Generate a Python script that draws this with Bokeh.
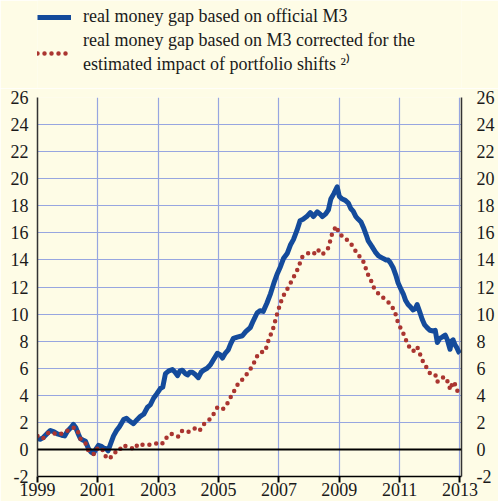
from bokeh.plotting import figure
from bokeh.layouts import column
from bokeh.models import (ColumnDataSource, LinearAxis, FixedTicker, Span, Legend, LegendItem, Range1d)
from bokeh.embed import file_html
from bokeh.resources import INLINE

# ---- data ----
years_official = [1999.00, 1999.10, 1999.20, 1999.33, 1999.43, 1999.55, 1999.66, 1999.80, 1999.90, 1999.99,
                  2000.10, 2000.19, 2000.27, 2000.34, 2000.42, 2000.50, 2000.59, 2000.69, 2000.78, 2000.85,
                  2000.93, 2001.02, 2001.10, 2001.19, 2001.28, 2001.34, 2001.42, 2001.52, 2001.62, 2001.72,
                  2001.85, 2001.95, 2002.05, 2002.18, 2002.30, 2002.41, 2002.52, 2002.64, 2002.74, 2002.85,
                  2002.95, 2003.07, 2003.15, 2003.24, 2003.35, 2003.47, 2003.56, 2003.64, 2003.72, 2003.80,
                  2003.90, 2003.97, 2004.05, 2004.13, 2004.22, 2004.33, 2004.42, 2004.50, 2004.62, 2004.73,
                  2004.85, 2004.96, 2005.05, 2005.13, 2005.22, 2005.32, 2005.40, 2005.49, 2005.62, 2005.79,
                  2005.90, 2006.05, 2006.15, 2006.28, 2006.38, 2006.48, 2006.60, 2006.72, 2006.85, 2006.95,
                  2007.05, 2007.15, 2007.28, 2007.38, 2007.48, 2007.60, 2007.70, 2007.80, 2007.92, 2008.04,
                  2008.14, 2008.27, 2008.36, 2008.44, 2008.55, 2008.64, 2008.72, 2008.82, 2008.93, 2009.00,
                  2009.10, 2009.20, 2009.30, 2009.38, 2009.46, 2009.55, 2009.63, 2009.72, 2009.80, 2009.90,
                  2009.96, 2010.08, 2010.19, 2010.30, 2010.46, 2010.55, 2010.62, 2010.69, 2010.79, 2010.87,
                  2010.95, 2011.03, 2011.12, 2011.20, 2011.28, 2011.37, 2011.45, 2011.52, 2011.58, 2011.66,
                  2011.75, 2011.83, 2011.91, 2012.00, 2012.11, 2012.18, 2012.25, 2012.33, 2012.41, 2012.51,
                  2012.58, 2012.67, 2012.72, 2012.77, 2012.84, 2012.90, 2012.96, 2013.00]
gap_official = [0.8, 0.75, 0.9, 1.2, 1.4, 1.3, 1.15, 1.05, 1.0, 1.35,
                1.6, 1.85, 1.6, 1.2, 0.8, 0.7, 0.6, 0.05, -0.2, -0.3,
                0.0, 0.3, 0.25, 0.1, 0.05, -0.1, 0.4, 1.0, 1.4, 1.7,
                2.2, 2.3, 2.1, 1.9, 2.2, 2.45, 2.6, 3.1, 3.3, 3.8,
                4.1, 4.5, 4.6, 5.6, 5.8, 5.9, 5.7, 5.45, 5.8, 5.85,
                5.6, 5.5, 5.7, 5.7, 5.55, 5.3, 5.7, 5.85, 6.0, 6.25,
                6.7, 7.1, 7.0, 6.75, 7.1, 7.35, 7.8, 8.2, 8.3, 8.4,
                8.7, 9.0, 9.5, 10.1, 10.25, 10.2, 10.8, 11.5, 12.4, 13.0,
                13.5, 14.1, 14.5, 15.1, 15.5, 16.2, 16.9, 17.0, 17.2, 17.5,
                17.2, 17.55, 17.4, 17.2, 17.4, 17.7, 18.5, 18.9, 19.4, 18.7,
                18.5, 18.4, 18.2, 17.8, 17.6, 17.2, 17.0, 16.8, 16.4, 15.8,
                15.4, 15.0, 14.6, 14.3, 14.1, 14.0, 14.0, 13.8, 13.4, 12.9,
                12.3, 11.9, 11.5, 11.0, 10.7, 10.5, 10.3, 10.4, 10.7, 10.2,
                9.6, 9.2, 9.0, 8.8, 8.75, 8.8, 7.9, 8.2, 8.3, 8.45,
                8.1, 7.4, 8.0, 8.1, 7.7, 7.5, 7.2, 7.1]

years_corrected = [1999.00, 1999.10, 1999.20, 1999.30, 1999.43, 1999.55, 1999.66, 1999.76, 1999.86, 2000.00,
                   2000.09, 2000.20, 2000.29, 2000.36, 2000.42, 2000.50, 2000.59, 2000.69, 2000.80, 2000.89,
                   2001.00, 2001.08, 2001.15, 2001.28, 2001.39, 2001.50, 2001.58, 2001.68, 2001.81, 2001.92,
                   2002.01, 2002.12, 2002.21, 2002.30, 2002.38, 2002.48, 2002.58, 2002.74, 2002.91, 2003.10,
                   2003.20, 2003.34, 2003.50, 2003.58, 2003.67, 2003.80, 2003.90, 2004.00, 2004.20, 2004.36,
                   2004.50, 2004.66, 2004.83, 2004.96, 2005.13, 2005.26, 2005.36, 2005.49, 2005.62, 2005.80,
                   2005.95, 2006.12, 2006.32, 2006.45, 2006.55, 2006.62, 2006.81, 2006.95, 2007.11, 2007.34,
                   2007.48, 2007.58, 2007.67, 2007.77, 2007.97, 2008.14, 2008.27, 2008.44, 2008.64, 2008.70,
                   2008.77, 2008.90, 2009.00, 2009.17, 2009.33, 2009.46, 2009.60, 2009.76, 2009.86, 2009.93,
                   2010.03, 2010.13, 2010.30, 2010.46, 2010.62, 2010.79, 2010.89, 2010.95, 2011.09, 2011.19,
                   2011.28, 2011.45, 2011.58, 2011.65, 2011.75, 2011.88, 2012.01, 2012.18, 2012.25, 2012.34,
                   2012.51, 2012.64, 2012.67, 2012.77, 2012.87, 2012.94, 2013.00]
gap_corrected = [1.0, 0.8, 0.85, 1.15, 1.3, 1.2, 1.1, 1.15, 1.2, 1.4,
                 1.55, 1.6, 1.55, 1.2, 0.8, 0.6, 0.45, -0.1, -0.3, -0.35,
                 0.15, 0.1, 0.0, -0.6, -0.7, -0.35, -0.2, -0.2, 0.3, 0.25,
                 0.15, 0.1, 0.0, 0.3, 0.45, 0.35, 0.3, 0.35, 0.45, 0.35,
                 0.6, 1.1, 1.15, 1.05, 0.95, 1.4, 1.35, 1.3, 1.55, 1.35,
                 1.85, 2.1, 2.6, 3.1, 2.95, 3.25, 3.7, 4.2, 4.75, 5.2,
                 5.6, 6.15, 7.1, 7.2, 7.25, 7.85, 8.95, 10.1, 11.2, 12.1,
                 12.7, 13.1, 13.6, 14.2, 14.5, 14.4, 14.8, 14.4, 14.9, 15.4,
                 16.0, 16.5, 15.9, 15.7, 15.3, 15.0, 14.4, 14.1, 13.5, 13.0,
                 12.6, 12.0, 11.5, 11.2, 10.9, 10.4, 9.85, 9.3, 8.75, 8.2,
                 7.7, 7.25, 7.6, 7.2, 6.6, 6.1, 5.6, 5.55, 5.0, 5.25,
                 5.35, 4.8, 4.4, 5.0, 4.7, 4.1, 4.0]

x_ticks = [1999, 2001, 2003, 2005, 2007, 2009, 2011, 2013]
x_tick_labels = ["1999", "2001", "2003", "2005", "2007", "2009", "2011", "2013"]
y_ticks = [-2, 0, 2, 4, 6, 8, 10, 12, 14, 16, 18, 20, 22, 24, 26]
y_tick_labels = ["-2", "0", "2", "4", "6", "8", "10", "12", "14", "16", "18", "20", "22", "24", "26"]

label_official = "real money gap based on official M3"
label_corrected = "real money gap based on M3 corrected for the\nestimated impact of portfolio shifts \u00b2\u207e"

# ---- style ----
BG = "#FEFCE6"
GRID = "#97A6E0"
BLUE = "#144B9B"
RED = "#AA3530"
TXT = "#1a1a1a"
FONT = "Liberation Serif"

BLUE_STYLE = dict(line_color=BLUE, line_width=5, line_join="round")
RED_STYLE = dict(line_color=RED, line_width=4.5, line_dash="0 7", line_cap="round")

src_o = ColumnDataSource(dict(x=years_official, y=gap_official))
src_c = ColumnDataSource(dict(x=years_corrected, y=gap_corrected))

# ---- legend strip (own small figure, renderers hidden, only legend shown) ----
lg = figure(width=498, height=88, output_backend="svg", toolbar_location=None,
            x_range=Range1d(1999, 2013.05), y_range=Range1d(-2, 26),
            x_axis_type=None, y_axis_type=None, min_border=0,
            background_fill_color=BG, border_fill_color=BG)
lg.outline_line_color = None
lg.grid.visible = False
d_o = lg.line("x", "y", source=src_o, visible=False, **BLUE_STYLE)
d_c = lg.line("x", "y", source=src_c, visible=False, **RED_STYLE)
legend = Legend(items=[LegendItem(label=label_official, renderers=[d_o]),
                       LegendItem(label=label_corrected, renderers=[d_c])],
                location=(0, 13), orientation="vertical", click_policy="none",
                background_fill_alpha=0, border_line_color=None,
                padding=0, margin=0, spacing=3,
                glyph_width=34, glyph_height=20, label_standoff=12,
                label_text_font=FONT, label_text_font_size="18px",
                label_text_color=TXT, label_text_line_height=1.22)
lg.add_layout(legend, "center")

# ---- main chart ----
p = figure(width=498, height=413, output_backend="svg", toolbar_location=None,
           x_range=Range1d(1999, 2013.05), y_range=Range1d(-2, 26),
           min_border_left=37, min_border_right=37, min_border_top=9, min_border_bottom=25,
           background_fill_color=BG, border_fill_color=BG)
p.outline_line_color = None

p.xaxis.ticker = FixedTicker(ticks=x_ticks)
p.yaxis.ticker = FixedTicker(ticks=y_ticks)
p.xgrid.ticker = FixedTicker(ticks=x_ticks[1:])
p.ygrid.ticker = FixedTicker(ticks=y_ticks[1:])
for g in (p.xgrid, p.ygrid):
    g.grid_line_color = GRID
    g.grid_line_width = 1.2

p.xaxis.major_label_overrides = {t: l for t, l in zip(x_ticks, x_tick_labels)}
p.yaxis.major_label_overrides = {t: l for t, l in zip(y_ticks, y_tick_labels)}

right = LinearAxis(ticker=FixedTicker(ticks=y_ticks),
                   major_label_overrides={t: l for t, l in zip(y_ticks, y_tick_labels)})
p.add_layout(right, "right")

for ax in p.yaxis:
    ax.axis_line_color = "#333333"
    ax.axis_line_width = 1.5
    ax.major_tick_line_color = None
    ax.minor_tick_line_color = None
    ax.major_tick_out = 0
    ax.major_tick_in = 0
    ax.major_label_text_font = FONT
    ax.major_label_text_font_size = "18px"
    ax.major_label_text_color = TXT
p.yaxis[0].major_label_standoff = 9
right.major_label_standoff = 15

xa = p.xaxis[0]
xa.axis_line_color = "black"
xa.axis_line_width = 1.5
xa.major_tick_line_color = "black"
xa.major_tick_line_width = 2
xa.major_tick_out = 6
xa.major_tick_in = 0
xa.minor_tick_line_color = None
xa.major_label_standoff = 0
xa.major_label_text_font = FONT
xa.major_label_text_font_size = "18px"
xa.major_label_text_color = TXT

p.add_layout(Span(location=0, dimension="width", line_color="black", line_width=2))

p.line("x", "y", source=src_o, **BLUE_STYLE)
p.line("x", "y", source=src_c, **RED_STYLE)

layout = column(lg, p, spacing=0)
open("out.html", "w").write(file_html(layout, INLINE))
